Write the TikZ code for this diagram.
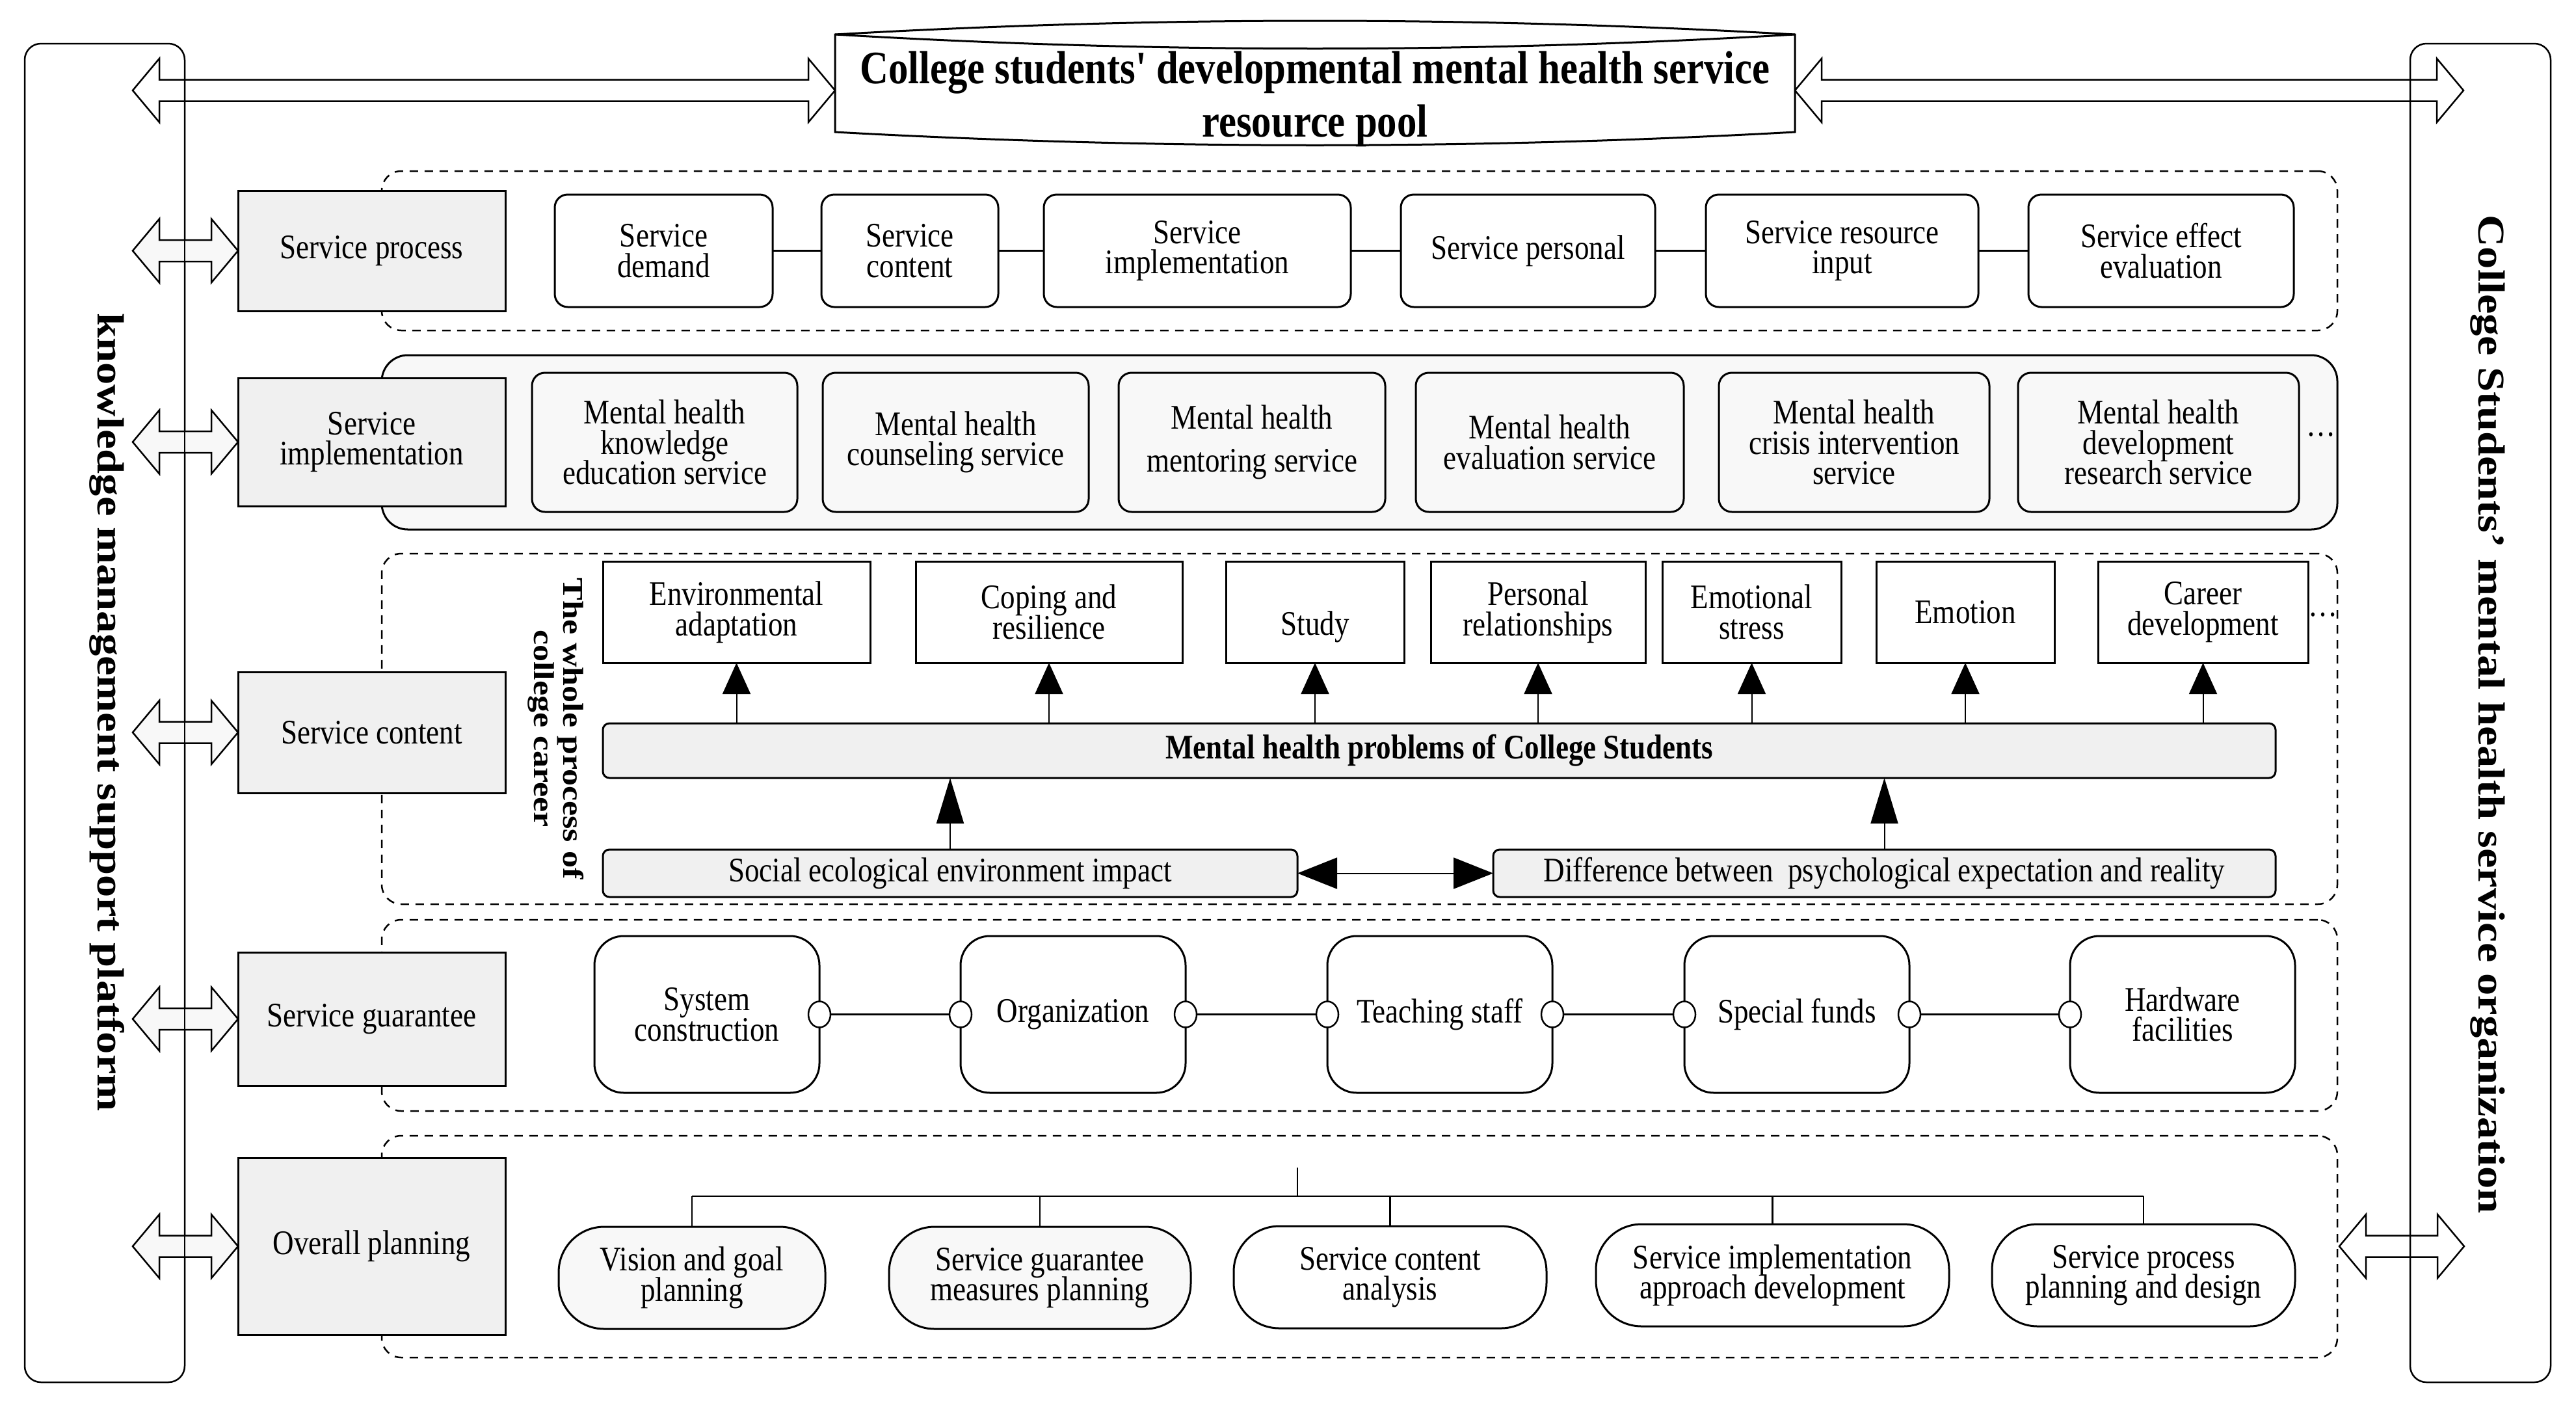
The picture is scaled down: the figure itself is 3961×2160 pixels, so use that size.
\documentclass[tikz,border=0pt]{standalone}
\usepackage{fontspec}
\setmainfont{Liberation Serif}[FakeStretch=0.85, Ligatures=TeXOff]
\newfontfamily\rotfont{Liberation Serif}[FakeStretch=1.176]
\usetikzlibrary{arrows.meta,shapes.geometric,calc}
\definecolor{boxgray}{HTML}{F0F0F0}
\definecolor{lightfill}{HTML}{F8F8F8}
\lineskiplimit=-20pt
\tikzset{
  every node/.style={outer sep=0pt, inner sep=0pt},
  txt/.style={font=\fontsize{10.6}{9.3}\selectfont, align=center},
  sz/.style 2 args={minimum width=#1*0.2pt, minimum height=#2*0.2pt},
  graybox/.style={txt, draw, fill=boxgray, line width=0.6pt},
  procbox/.style={txt, draw, fill=white, rounded corners=4pt, line width=0.6pt},
  implbox/.style={txt, draw, fill=lightfill, rounded corners=4pt, line width=0.6pt},
  probbox/.style={txt, draw, fill=white, line width=0.6pt},
  barbox/.style={txt, draw, fill=boxgray, rounded corners=2pt, line width=0.6pt},
  guarbox/.style={txt, draw, fill=white, rounded corners=9pt, line width=0.6pt},
  planbox/.style={txt, draw, rounded corners=14pt, line width=0.6pt},
  panel/.style={draw, dash pattern=on 2.6pt off 2pt, line width=0.5pt, rounded corners=6pt},
  solidpanel/.style={draw, fill=lightfill, line width=0.6pt, rounded corners=8pt},
  sidebox/.style={draw, line width=0.5pt, rounded corners=5pt},
  sidetxt/.style={font=\rotfont\bfseries\fontsize{11.65}{12}\selectfont, rotate=-90},
  wholetxt/.style={font=\rotfont\bfseries\fontsize{8.85}{9}\selectfont, align=center, rotate=-90},
  titletxt/.style={font=\fontsize{14.3}{16.4}\selectfont\bfseries, align=center},
  conn/.style={line width=0.55pt},
  port/.style={draw, fill=white, ellipse, line width=0.5pt, minimum width=6.8pt, minimum height=8pt},
  uparrow/.style={line width=0.4pt, -{Triangle[length=9.6pt,width=8.6pt]}},
  bigup/.style={line width=0.4pt, -{Triangle[length=14pt,width=8.4pt]}},
  dblarrow/.style={line width=0.4pt, {Triangle[length=12.2pt,width=9.6pt]}-{Triangle[length=12.2pt,width=9.6pt]}},
}
\newcommand\hollowarrow[3]{%
  \draw[line width=0.5pt, fill=#1] let \p1=#2, \p2=#3 in
   (\x1,\y1) -- (\x1+8.2pt,\y1+9.8pt) -- (\x1+8.2pt,\y1+3.3pt) -- (\x2-8.2pt,\y1+3.3pt)
   -- (\x2-8.2pt,\y1+9.8pt) -- (\x2,\y1) -- (\x2-8.2pt,\y1-9.8pt) -- (\x2-8.2pt,\y1-3.3pt)
   -- (\x1+8.2pt,\y1-3.3pt) -- (\x1+8.2pt,\y1-9.8pt) -- cycle;}
\begin{document}
\begin{tikzpicture}[x=0.2pt, y=-0.2pt]
\useasboundingbox (0,0) rectangle (3961,2160);

% coordinates for arrow ends
\coordinate (tl) at (204,139);
\coordinate (cw) at (1284,139);
\coordinate (ce) at (2760,139);
\coordinate (tr) at (3788,139);
\coordinate (a1) at (204,385.5);
\coordinate (a2) at (204,679.5);
\coordinate (a3) at (204,1126);
\coordinate (a4) at (204,1566.5);
\coordinate (a5) at (204,1916);
\coordinate (br1) at (3597,1916);
\coordinate (br2) at (3789,1916);

% top arrows
\hollowarrow{white}{(tl)}{(cw)}
\hollowarrow{white}{(ce)}{(tr)}
\hollowarrow{white}{(br1)}{(br2)}

% side frames
\node[sidebox, sz={246}{2058}] (L) at (161,1096) {};
\node[sidebox, sz={216}{2058}] (R) at (3814,1096) {};
\node[sidetxt] (Ltxt) at (165,1095) {knowledge management support platform};
\node[sidetxt] (Rtxt) at (3825,1098) {College Students’ mental health service organization};

% resource pool cylinder
\draw[line width=0.6pt, fill=white] (1284,53) .. controls (1776,25) and (2268,25) .. (2760,53)
  -- (2760,203) .. controls (2268,230) and (1776,230) .. (1284,203) -- cycle;
\draw[line width=0.6pt] (1284,53) .. controls (1776,82) and (2268,82) .. (2760,53);
\node[titletxt] (pool) at (2022,152) {College students' developmental mental health service\\resource pool};

% panels
\node[panel, sz={3007}{245}] (P1) at (2090.5,385.5) {};
\node[solidpanel, sz={3007}{268}] (P2) at (2090.5,680) {};
\node[panel, sz={3007}{539}] (P3) at (2090.5,1120.5) {};
\node[panel, sz={3007}{294}] (P4) at (2090.5,1561) {};
\node[panel, sz={3007}{341}] (P5) at (2090.5,1916.5) {};

% gray row boxes
\node[graybox, sz={411}{185}] (G1) at (571.5,385.5) {Service process};
\node[graybox, sz={411}{197}] (G2) at (571.5,679.5) {Service\\implementation};
\node[graybox, sz={411}{186}] (G3) at (571.5,1126) {Service content};
\node[graybox, sz={411}{205}] (G4) at (571.5,1566.5) {Service guarantee};
\node[graybox, sz={411}{272}] (G5) at (571.5,1916) {Overall planning};

% row arrows (left)
\hollowarrow{lightfill}{(a1)}{(G1.west)}
\hollowarrow{lightfill}{(a2)}{(G2.west)}
\hollowarrow{lightfill}{(a3)}{(G3.west)}
\hollowarrow{lightfill}{(a4)}{(G4.west)}
\hollowarrow{lightfill}{(a5)}{(G5.west)}
\draw[line width=0.5pt] ($(L.north east)+(0,30)$) -- ($(L.south east)+(0,-30)$);

% row 1: service process
\node[procbox, sz={335}{173}] (sp1) at (1020.5,385.5) {Service\\demand};
\node[procbox, sz={272}{173}] (sp2) at (1399,385.5) {Service\\content};
\node[procbox, sz={472}{173}] (sp3) at (1841,385.5) {Service\\implementation};
\node[procbox, sz={391}{173}] (sp4) at (2349.5,385.5) {Service personal};
\node[procbox, sz={419}{173}] (sp5) at (2832.5,385.5) {Service resource\\input};
\node[procbox, sz={408}{173}] (sp6) at (3323,385.5) {Service effect\\evaluation};
\draw[conn] (sp1) -- (sp2);
\draw[conn] (sp2) -- (sp3);
\draw[conn] (sp3) -- (sp4);
\draw[conn] (sp4) -- (sp5);
\draw[conn] (sp5) -- (sp6);

% row 2: service implementation
\node[implbox, sz={408}{214}] (si1) at (1022,680) {Mental health\\knowledge\\education service};
\node[implbox, sz={409}{214}] (si2) at (1469.5,680) {Mental health\\counseling service};
\node[implbox, sz={410}{214}] (si3) at (1925,680) {Mental health\\[4pt]mentoring service};
\node[implbox, sz={412}{214}] (si4) at (2383,680) {Mental health\\evaluation service};
\node[implbox, sz={416}{214}] (si5) at (2851,680) {Mental health\\crisis intervention\\service};
\node[implbox, sz={432}{214}] (si6) at (3319,680) {Mental health\\development\\research service};
\node[txt] (dots1) at (3569,668) {…};

% row 3: service content
\node[wholetxt] (whole) at (855,1120) {The whole process of\\college career};
\node[probbox, sz={411}{156}] (c1) at (1132.5,941) {Environmental\\adaptation};
\node[probbox, sz={410}{156}] (c2) at (1613,941) {Coping and\\resilience};
\node[probbox, sz={274}{156}] (c3) at (2022,941) {\vphantom{Cl}\\Study};
\node[probbox, sz={330}{156}] (c4) at (2365,941) {Personal\\relationships};
\node[probbox, sz={275}{156}] (c5) at (2693.5,941) {Emotional\\stress};
\node[probbox, sz={274}{156}] (c6) at (3022,941) {Emotion};
\node[probbox, sz={323}{156}] (c7) at (3387.5,941) {Career\\development};
\node[txt] (dots2) at (3572,945) {…};
\node[barbox, sz={2572}{84}, font=\fontsize{10.6}{9.3}\selectfont\bfseries] (mbar) at (2213,1154) {Mental health problems of College Students};
\node[barbox, sz={1068}{73}] (social) at (1461,1342.5) {Social ecological environment impact};
\node[barbox, sz={1203}{73}] (diff) at (2897.5,1342.5) {Difference between\ \ psychological expectation and reality};
\foreach \c in {c1,c2,c3,c4,c5,c6,c7}{
  \draw[uparrow] (\c |- mbar.north) -- (\c.south);
}
\draw[bigup] (social.north) -- (social.north |- mbar.south);
\draw[bigup] (diff.north) -- (diff.north |- mbar.south);
\draw[dblarrow] (social.east) -- (diff.west);

% row 4: service guarantee
\node[guarbox, sz={346}{241}] (g1) at (1087,1559.5) {System\\construction};
\node[guarbox, sz={346}{241}] (g2) at (1650,1559.5) {Organization};
\node[guarbox, sz={346}{241}] (g3) at (2214,1559.5) {Teaching staff};
\node[guarbox, sz={346}{241}] (g4) at (2763,1559.5) {Special funds};
\node[guarbox, sz={346}{241}] (g5) at (3356,1559.5) {Hardware\\facilities};
\draw[conn] (g1.east) -- (g2.west);
\draw[conn] (g2.east) -- (g3.west);
\draw[conn] (g3.east) -- (g4.west);
\draw[conn] (g4.east) -- (g5.west);
\node[port] (p1e) at (g1.east) {};
\node[port] (p2w) at (g2.west) {};
\node[port] (p2e) at (g2.east) {};
\node[port] (p3w) at (g3.west) {};
\node[port] (p3e) at (g3.east) {};
\node[port] (p4w) at (g4.west) {};
\node[port] (p4e) at (g4.east) {};
\node[port] (p5w) at (g5.west) {};

% row 5: overall planning
\node[planbox, fill=lightfill, sz={410}{157}] (o1) at (1064,1964.5) {Vision and goal\\planning};
\node[planbox, fill=lightfill, sz={464}{157}] (o2) at (1599,1964.5) {Service guarantee\\measures planning};
\node[planbox, fill=white, sz={481}{157}] (o3) at (2137.5,1963.5) {Service content\\analysis};
\node[planbox, fill=white, sz={543}{157}] (o4) at (2725.5,1960.5) {Service implementation\\approach development};
\node[planbox, fill=white, sz={466}{157}] (o5) at (3296,1960.5) {Service process\\planning and design};
\coordinate (stub) at (1995,1795);
\coordinate (busL) at (1064,1839);
\coordinate (busR) at (3296,1839);
\draw[conn] (busL) -- (busR);
\draw[conn] (stub) -- (stub |- busL);
\foreach \o in {o1,o2,o3,o4,o5}{
  \draw[conn] (\o.north |- busL) -- (\o.north);
}
\end{tikzpicture}
\end{document}
